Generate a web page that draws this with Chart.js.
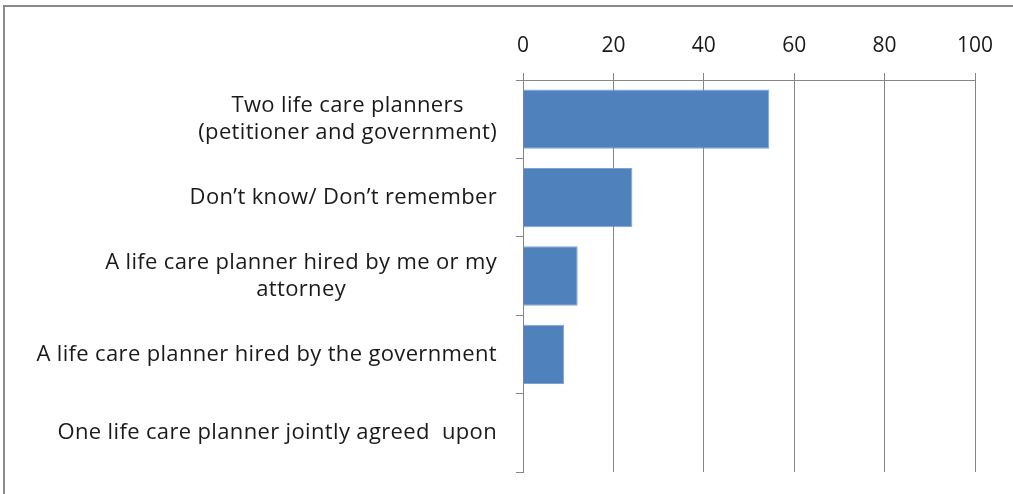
<!DOCTYPE html>
<html>
<head>
<meta charset="utf-8">
<script src="https://cdn.jsdelivr.net/npm/chart.js@4/dist/chart.umd.min.js"></script>
<style>
  html, body { margin: 0; padding: 0; background: #ffffff; }
  #wrap { position: relative; width: 1013px; height: 494px; overflow: hidden; }
  #frame {
    position: absolute; left: 3px; top: 5px; right: -10px; bottom: -10px;
    border-top: 2px solid #8a8a8a; border-left: 2px solid #8a8a8a;
  }
  canvas { position: absolute; left: 0; top: 0; }
</style>
</head>
<body>
<div id="wrap">
  <div id="frame"></div>
  <canvas id="chart" width="1013" height="494"></canvas>
</div>
<script>
// Answer categories (multi-line entries are arrays of lines)
const categories = [
  ['Two life care planners', '(petitioner and government)'],
  'Don\u2019t know/ Don\u2019t remember',
  ['A life care planner hired by me or my', 'attorney'],
  'A life care planner hired by the government',
  'One life care planner jointly agreed  upon'
];
// Percent of respondents
const percentages = [54.5, 24.2, 12.1, 9.1, 0];
// Value axis ticks
const xTicks = [0, 20, 40, 60, 80, 100];

const FONT_FAMILY = '"Open Sans", Lato, sans-serif';
const LABEL_SIZE = 22;
const LABEL_LINE = 27;
const AXIS_GREY = '#868686';

// Draws category labels: each label block is right-aligned, its lines centered within it
const centeredCategoryLabels = {
  id: 'centeredCategoryLabels',
  afterDraw(chart) {
    const scale = chart.scales.y;
    const ctx = chart.ctx;
    const rightEdge = scale.right - 7 - 19;
    ctx.save();
    ctx.font = LABEL_SIZE + 'px ' + FONT_FAMILY;
    ctx.letterSpacing = '0.35px';
    ctx.fillStyle = '#1a1a1a';
    ctx.textAlign = 'center';
    ctx.textBaseline = 'middle';
    categories.forEach((label, i) => {
      const lines = Array.isArray(label) ? label : [label];
      const widest = Math.max(...lines.map(l => ctx.measureText(l).width));
      const cx = rightEdge - widest / 2;
      const cy = scale.getPixelForTick(i);
      const top = cy - (lines.length - 1) * LABEL_LINE / 2;
      lines.forEach((line, j) => ctx.fillText(line, cx, top + j * LABEL_LINE));
    });
    ctx.restore();
  }
};

new Chart(document.getElementById('chart'), {
  type: 'bar',
  data: {
    labels: categories,
    datasets: [{
      data: percentages,
      backgroundColor: '#4f81bd',
      borderColor: '#7fa4d3',
      borderWidth: 1,
      borderSkipped: 'left',
      categoryPercentage: 1,
      barPercentage: 0.757
    }]
  },
  plugins: [centeredCategoryLabels],
  options: {
    indexAxis: 'y',
    responsive: false,
    animation: false,
    events: [],
    layout: { padding: { left: 0, right: 38, top: 0, bottom: 22 } },
    plugins: { legend: { display: false }, tooltip: { enabled: false } },
    scales: {
      x: {
        position: 'top',
        min: 0,
        max: 100,
        afterBuildTicks(scale) { scale.ticks = xTicks.map(v => ({ value: v })); },
        afterFit(scale) { scale.height = 80; },
        ticks: {
          color: '#1a1a1a',
          padding: 14,
          font: { family: FONT_FAMILY, size: 21 }
        },
        grid: { color: AXIS_GREY, lineWidth: 1, tickLength: 7, drawOnChartArea: true },
        border: { color: AXIS_GREY, width: 1 }
      },
      y: {
        afterFit(scale) { scale.width = 523; },
        ticks: { display: false },
        grid: { offset: true, drawOnChartArea: false, color: AXIS_GREY, tickLength: 7 },
        border: { color: AXIS_GREY, width: 1 }
      }
    }
  }
});
</script>
</body>
</html>
